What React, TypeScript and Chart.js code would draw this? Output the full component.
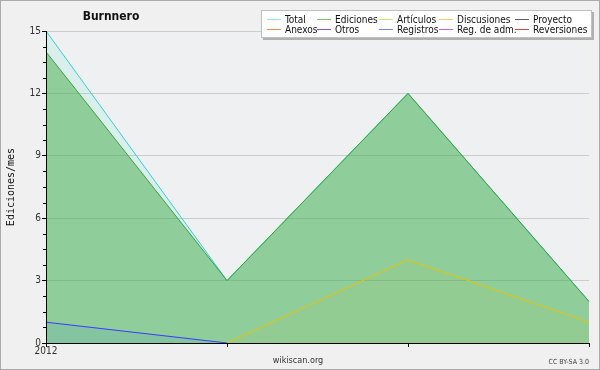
import React, { useEffect, useRef } from "react";
import { Chart, registerables } from "chart.js";

Chart.register(...registerables);

const categories = ["2012", "", "", ""];
const totalValues = [15, 3, 12, 2];
const edicionesValues = [14, 3, 12, 2];
const registrosValues = [1, 0, null, null];
const discusionesValues = [null, 0, 4, 1];
const yTicks = [0, 3, 6, 9, 12, 15];

const legendRow1 = ["Total", "Ediciones", "Artículos", "Discusiones", "Proyecto"];
const legendRow2 = ["Anexos", "Otros", "Registros", "Reg. de adm.", "Reversiones"];
const legendColors1 = ["#a0e2e2", "#78c080", "#bcee70", "#f0d060", "#606060"];
const legendColors2 = ["#f09050", "#8454d6", "#8080f0", "#c464e2", "#e04444"];
const legendTextX = [285, 335, 397, 457, 533];

const decor = {
  id: "decor",
  beforeDraw(chart: any) {
    const { ctx, chartArea: a } = chart;
    ctx.save();
    ctx.fillStyle = "#f0f0f0";
    ctx.fillRect(0, 0, 600, 370);
    ctx.strokeStyle = "#aaaaaa";
    ctx.lineWidth = 1;
    ctx.strokeRect(0.5, 0.5, 599, 369);
    ctx.fillStyle = "#eff0f2";
    ctx.fillRect(a.left, a.top, a.right - a.left, a.bottom - a.top);
    ctx.restore();
  },
  afterDatasetsDraw(chart: any) {
    const { ctx, chartArea: a, scales } = chart;
    const y = scales.y;
    ctx.save();
    ctx.strokeStyle = "#000";
    ctx.lineWidth = 1;
    ctx.beginPath();
    const by = Math.round(a.bottom) + 0.5;
    ctx.moveTo(a.left, by);
    ctx.lineTo(a.right + 1, by);
    const lx = Math.round(a.left) + 0.5;
    ctx.moveTo(lx, a.top);
    ctx.lineTo(lx, a.bottom + 1);
    for (let v = 0; v <= 15.001; v += 0.75) {
      if (Math.abs(v / 3 - Math.round(v / 3)) < 0.01) continue;
      const py = Math.round(y.getPixelForValue(v)) + 0.5;
      ctx.moveTo(a.left - 3, py);
      ctx.lineTo(a.left, py);
    }
    ctx.stroke();
    ctx.restore();
  },
  afterDraw(chart: any) {
    const { ctx, chartArea: a } = chart;
    ctx.save();
    ctx.fillStyle = "#111";
    ctx.textAlign = "center";
    ctx.textBaseline = "middle";
    ctx.font = "bold 12px 'DejaVu Sans Condensed', 'DejaVu Sans'";
    ctx.fillText("Burnnero", 111, 17);

    ctx.save();
    ctx.translate(11, (a.top + a.bottom) / 2);
    ctx.rotate(-Math.PI / 2);
    ctx.font = "10px 'DejaVu Sans Mono'";
    ctx.fillStyle = "#111";
    ctx.fillText("Ediciones/mes", 0, 0);
    ctx.restore();

    ctx.fillStyle = "#333";
    ctx.font = "9px 'DejaVu Sans Condensed', 'DejaVu Sans'";
    ctx.fillText("wikiscan.org", 298, 361);
    ctx.textAlign = "right";
    ctx.font = "7px 'DejaVu Sans Condensed', 'DejaVu Sans'";
    ctx.fillStyle = "#444";
    ctx.fillText("CC BY-SA 3.0", 589, 362);

    // legend
    ctx.fillStyle = "#b0b0b0";
    ctx.fillRect(263, 12, 331, 28);
    ctx.fillStyle = "#ffffff";
    ctx.fillRect(261, 10, 331, 28);
    ctx.strokeStyle = "#c0c0c0";
    ctx.strokeRect(261.5, 10.5, 330, 27);
    ctx.textAlign = "left";
    ctx.font = "10px 'DejaVu Sans Condensed', 'DejaVu Sans'";
    const rows = [
      { labels: legendRow1, colors: legendColors1, y: 19 },
      { labels: legendRow2, colors: legendColors2, y: 29 },
    ];
    rows.forEach((r) => {
      r.labels.forEach((lab, i) => {
        const tx = legendTextX[i];
        ctx.strokeStyle = r.colors[i];
        ctx.lineWidth = 1;
        ctx.beginPath();
        ctx.moveTo(tx - 18, r.y + 0.5);
        ctx.lineTo(tx - 4, r.y + 0.5);
        ctx.stroke();
        ctx.fillStyle = "#111";
        ctx.fillText(lab, tx, r.y + 1);
      });
    });
    ctx.restore();
  },
};

export default function App() {
  const ref = useRef<HTMLCanvasElement>(null);
  useEffect(() => {
    document.body.style.margin = "0";
    const chart = new Chart(ref.current!, {
      type: "line",
      data: {
        labels: categories,
        datasets: [
          {
            label: "Total",
            data: totalValues,
            borderColor: "#2cd2d2",
            backgroundColor: "rgba(120,230,200,0.17)",
            fill: "origin",
            borderWidth: 1,
            pointRadius: 0,
            order: 4,
          },
          {
            label: "Ediciones",
            data: edicionesValues,
            borderColor: "#36a83a",
            backgroundColor: "rgba(50,165,55,0.45)",
            fill: "origin",
            borderWidth: 1,
            pointRadius: 0,
            order: 3,
          },
          {
            label: "Registros",
            data: registrosValues,
            borderColor: "#3a3aff",
            backgroundColor: "rgba(40,120,220,0.1)",
            fill: "origin",
            borderWidth: 1,
            pointRadius: 0,
            order: 2,
          },
          {
            label: "Discusiones",
            data: discusionesValues,
            borderColor: "#e8c400",
            backgroundColor: "rgba(240,210,0,0.04)",
            fill: "origin",
            borderWidth: 1,
            pointRadius: 0,
            order: 1,
          },
        ],
      },
      options: {
        responsive: false,
        animation: false,
        devicePixelRatio: 1,
        spanGaps: false,
        layout: { padding: { top: 31, right: 11, bottom: 0, left: 0 } },
        plugins: { legend: { display: false }, title: { display: false }, tooltip: { enabled: false } },
        elements: { line: { tension: 0 } },
        scales: {
          x: {
            type: "category",
            offset: false,
            grid: { drawOnChartArea: false, tickLength: 4, tickColor: "#000" },
            border: { color: "#000" },
            ticks: {
              autoSkip: false,
              maxRotation: 0,
              padding: -2,
              color: "#333",
              font: { size: 10, family: "'DejaVu Sans Condensed', 'DejaVu Sans'" },
            },
            afterFit: (s: any) => {
              s.height = 27;
            },
          },
          y: {
            min: 0,
            max: 15,
            afterBuildTicks: (s: any) => {
              s.ticks = yTicks.map((v) => ({ value: v }));
            },
            grid: { color: "#cccccc", tickLength: 4, tickColor: "#000" },
            border: { color: "#000" },
            ticks: {
              padding: 1,
              color: "#333",
              font: { size: 10, family: "'DejaVu Sans Condensed', 'DejaVu Sans'" },
            },
            afterFit: (s: any) => {
              s.width = 46;
            },
          },
        },
      },
      plugins: [decor],
    });
    return () => chart.destroy();
  }, []);
  return <canvas ref={ref} width={600} height={370} style={{ display: "block" }} />;
}
